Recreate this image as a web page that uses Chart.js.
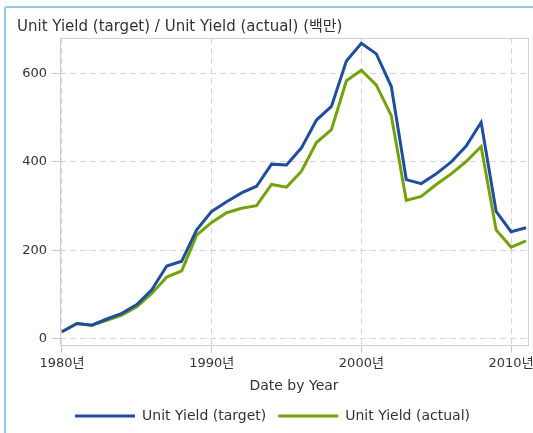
<!DOCTYPE html>
<html>
<head>
<meta charset="utf-8">
<script src="https://cdn.jsdelivr.net/npm/chart.js@4"></script>
<style>
  html, body { margin: 0; padding: 0; background: #fff; overflow: hidden; }
  #frame { position: absolute; left: 4px; top: 6px; width: 560px; height: 460px;
           border: 2px solid #92c8ec; border-radius: 3px; box-sizing: border-box; }
  #wrap { position: absolute; left: 0; top: 0; width: 533px; height: 433px; }
</style>
</head>
<body>
<div id="frame"></div>
<div id="wrap"><canvas id="c" width="533" height="433"></canvas></div>
<script>
const years = [1980,1981,1982,1983,1984,1985,1986,1987,1988,1989,1990,1991,1992,1993,1994,1995,
               1996,1997,1998,1999,2000,2001,2002,2003,2004,2005,2006,2007,2008,2009,2010,2011];
const targetValues = [15,34,30,44,57,77,110,164,175,246,288,310,330,345,395,393,
                      432,495,526,629,669,645,571,360,351,373,400,436,490,288,242,251];
const actualValues = [15,34,30,41,53,72,102,139,153,234,263,285,295,301,349,343,
                      379,444,473,584,608,574,505,313,322,349,373,401,435,246,207,221];
const yTicks = [0,200,400,600];
const xTicks = [1980,1990,2000,2010];
const titleText = 'Unit Yield (target) / Unit Yield (actual) (백만)';
const xTitle = 'Date by Year';
const seriesNames = ['Unit Yield (target)','Unit Yield (actual)'];

const FONT = "'DejaVu Sans', 'Noto Sans CJK KR', sans-serif";
const blue = '#1f4e9c';
const green = '#74a20c';
const gridColor = '#d6d6d6';

const boxPlugin = {
  id: 'plotBox',
  beforeDatasetsDraw(chart) {
    const a = chart.chartArea, ctx = chart.ctx;
    ctx.save();
    ctx.strokeStyle = '#d0d0d0';
    ctx.lineWidth = 1;
    ctx.setLineDash([]);
    ctx.strokeRect(Math.round(a.left) + 0.5, Math.round(a.top) + 0.5,
                   Math.round(a.right - a.left), Math.round(a.bottom - a.top));
    ctx.restore();
  }
};

new Chart(document.getElementById('c'), {
  type: 'line',
  data: {
    datasets: [
      { label: seriesNames[0], data: years.map((y,i)=>({x:y, y:targetValues[i]})),
        borderColor: blue, backgroundColor: blue, borderWidth: 3, pointRadius: 0, tension: 0 },
      { label: seriesNames[1], data: years.map((y,i)=>({x:y, y:actualValues[i]})),
        borderColor: green, backgroundColor: green, borderWidth: 3, pointRadius: 0, tension: 0 }
    ]
  },
  options: {
    responsive: false,
    animation: false,
    layout: { padding: { left: 17, right: 5, top: 0, bottom: 0 } },
    plugins: {
      tooltip: { enabled: false },
      title: {
        display: true, text: titleText, align: 'start', color: '#333',
        font: { family: FONT, size: 15, weight: 'normal' },
        padding: { top: 18, bottom: 2 }
      },
      legend: {
        position: 'bottom',
        labels: {
          color: '#333', font: { family: FONT, size: 14 },
          boxWidth: 60, boxHeight: 3, padding: 12,
          generateLabels(chart) {
            return chart.data.datasets.map((d,i)=>({
              text: d.label, fillStyle: d.borderColor, strokeStyle: d.borderColor,
              lineWidth: 0, datasetIndex: i, fontColor: '#333'
            }));
          }
        }
      }
    },
    scales: {
      x: {
        type: 'linear', min: 1979.87, max: 2011.13,
        afterBuildTicks(s) { s.ticks = xTicks.map(v=>({value:v})); },
        afterFit(s) { s.paddingLeft = 0; s.paddingRight = 0; },
        ticks: { color: '#333', font: { family: FONT, size: 13 }, padding: 3,
                 maxRotation: 0, callback: v => v + '년' },
        grid: { color: gridColor, tickLength: 8, tickColor: '#c8c8c8' },
        border: { display: false, dash: [6,4] },
        title: { display: true, text: xTitle, color: '#333',
                 font: { family: FONT, size: 14 }, padding: { top: 4, bottom: 2 } }
      },
      y: {
        min: -14, max: 681,
        afterBuildTicks(s) { s.ticks = yTicks.map(v=>({value:v})); },
        afterFit(s) { s.width = 43; s.paddingTop = 0; s.paddingBottom = 0; },
        ticks: { color: '#333', font: { family: FONT, size: 13 }, padding: 5 },
        grid: { color: gridColor, tickLength: 8, tickColor: '#c8c8c8' },
        border: { display: false, dash: [6,4] }
      }
    }
  },
  plugins: [boxPlugin]
});
</script>
</body>
</html>
